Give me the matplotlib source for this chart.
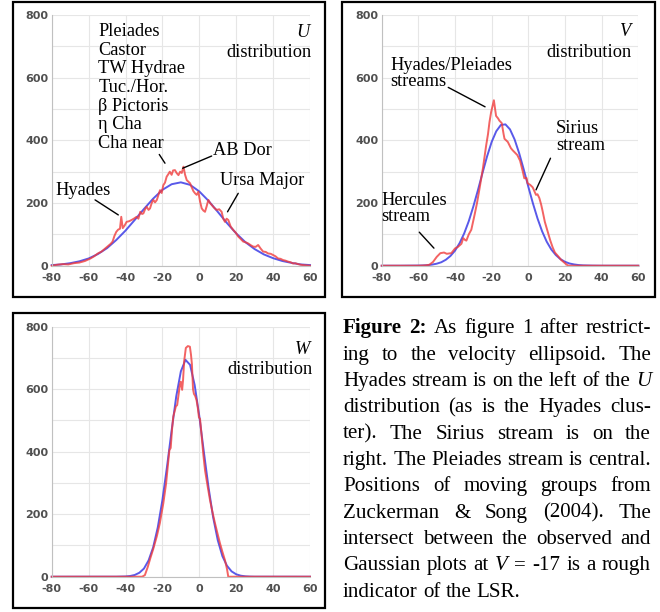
import numpy as np
import matplotlib
matplotlib.use('Agg')
import matplotlib.pyplot as plt
from matplotlib.patches import Rectangle

plt.rcParams['axes.unicode_minus'] = False

# ---- datos ----
# U
u_obs_x = [-80, -77, -74, -71, -68, -65, -62, -59, -57, -55, -53, -50, -48, -47, -46, -45, -44, -43,
           -42.3, -41.5, -40.5, -39.4, -38, -36.7, -35.5, -34, -33, -32, -31, -30.3, -29.4, -28.5,
           -27.5, -26.7, -25.8, -24.9, -24, -23, -22.2, -21.3, -20.4, -19.5, -18.6, -17.7, -16.8,
           -16, -15, -14.2, -13.2, -12.2, -11.3, -10.4, -9.5, -8.6, -7.7, -6.8, -5.9, -5, -4.1,
           -3.2, -2.3, -1.4, -0.5, 0.4, 1.3, 2.2, 3.1, 4, 4.9, 5.8, 6.7, 8, 9.4, 10.8, 12.1, 13,
           13.9, 14.8, 15.7, 17, 18.4, 19.8, 21.1, 22.5, 23.8, 25, 26.5, 28, 29.2, 30.5, 31.9, 33.2,
           34.6, 36, 37.3, 38.7, 40, 41.3, 42.7, 44, 45.4, 46.8, 48.1, 49.5, 50.8, 52, 53.5, 55,
           56.2, 58, 60]
u_obs_y = [0, 3, 5, 4, 8, 10, 15, 23, 30, 39, 45, 60, 70, 77, 95, 108, 115, 118,
           156, 120, 128, 140, 142, 146, 150, 156, 150, 172, 165, 167, 180, 188,
           178, 183, 200, 210, 202, 210, 225, 241, 232, 257, 265, 284, 292,
           300, 290, 304, 305, 295, 289, 300, 296, 316, 290, 273, 268, 263, 250,
           238, 231, 226, 236, 205, 183, 176, 172, 190, 210, 200, 194, 185, 178, 180, 172, 150,
           140, 150, 146, 125, 114, 105, 93, 85, 77, 75, 71, 65, 61, 60, 66, 55,
           45, 44, 39, 38, 34, 30, 23, 22, 18, 16, 13, 11, 7, 8, 5, 3,
           2, 1, 0]
u_fit_x = list(range(-80, 61, 5))
u_fit_y = [2, 4, 8, 14, 23, 37, 56, 82, 112, 146, 181, 214, 242, 260, 266, 258, 237, 207,
           172, 136, 103, 75, 53, 36, 24, 15, 9, 4, 2]

# V
v_obs_x = [-80, -70, -60, -56, -54, -52, -50, -48, -46, -44.5, -42, -40, -38.4, -36.5, -35.5,
           -34.5, -33.8, -32.5, -31.1, -29.3, -28, -26.6, -24.8, -23, -22, -21.2, -20.3, -18.8,
           -17.6, -16.5, -15.8, -14.5, -13.5, -13, -11.2, -9.5, -8.5, -6, -4.5, -3, -2.2, -1,
           -0.4, 1, 2.4, 3.5, 4.2, 5, 6, 7, 7.8, 9, 10.5, 12, 13.3, 14.5, 16, 18, 19.6, 21, 22,
           30, 60]
v_obs_y = [0, 0, 0, 1, 3, 12, 28, 40, 42, 38, 40, 55, 60, 70, 88,
           82, 80, 100, 115, 163, 200, 247, 310, 384, 420, 458, 490, 528,
           478, 470, 463, 455, 420, 405, 395, 375, 368, 353, 335, 300, 279, 280,
           263, 258, 250, 235, 226, 228, 216, 195, 174, 140, 110, 80, 58, 42, 32, 18, 10, 3, 0,
           0, 0]
v_fit_x = [-80, -70, -60, -57.5, -55, -52.5, -50, -47.5, -45, -42.5, -40, -37.5, -35, -32.5,
           -30, -27.5, -25, -22.5, -20, -17.5, -15, -12.5, -10, -7.5, -5, -2.5, 0, 2.5, 5, 7.5,
           10, 12.5, 15, 17.5, 20, 22.5, 25, 27.5, 30, 35, 40, 50, 60]
v_fit_y = [0, 0, 0.5, 0.9, 1.8, 3.5, 6.4, 11, 19, 31, 48, 72, 103, 142,
           189, 241, 296, 349, 395, 429, 449, 451, 435, 403, 359, 307, 252, 199, 151, 110,
           77, 52, 34, 21, 12.5, 7, 4, 2, 1, 0.3, 0, 0, 0]

# W
w_obs_x = [-80, -35, -31, -29.5, -28, -26.5, -25, -23, -21.4, -19.5, -18, -16.8, -16.2, -15.5,
           -14.8, -14.1, -12.7, -12, -11.3, -10.5, -10, -9.3, -8.8, -8.2, -7.3, -6.2, -5.1, -4.5,
           -4, -3.4, -2.9, -2.2, -1.5, -0.8, -0.2, 0.4, 1.3, 2.2, 3.1, 4.5, 5.8, 7.2, 8.5, 10,
           11.2, 12.5, 13.9, 15, 15.7, 60]
w_obs_y = [0, 0, 0, 5, 30, 60, 88, 130, 171, 235, 298, 370, 405, 412,
           470, 512, 545, 549, 580, 615, 624, 598, 630, 690, 732, 738, 736, 710,
           680, 600, 585, 578, 565, 540, 510, 505, 448, 390, 341, 290, 245, 205, 171, 135,
           107, 80, 53, 25, 0, 0]
w_fit_x = [-80, -45, -40, -37.5, -35, -32.5, -30, -27.5, -25, -22.5, -20, -17.5, -15, -12.5,
           -10, -7.5, -5, -2.5, 0, 2.5, 5, 7.5, 10, 12.5, 15, 17.5, 20, 22.5, 25, 27.5, 30, 60]
w_fit_y = [0, 0.1, 0.8, 2.2, 5.5, 12.6, 26, 52, 94, 158, 245, 352, 468, 577,
           657, 694, 678, 613, 514, 398, 286, 190, 117, 66, 35, 17, 7.7, 3.2, 1.2, 0.4, 0.1, 0]

W, H = 660, 612
fig = plt.figure(figsize=(6.6, 6.12), dpi=100)

def fx(px):
    return px / W

def fy(py):
    return 1 - py / H

ROJO = '#f03c3c'
AZUL = '#3c3ce6'
SERIF = 'Liberation Serif'
FS = 13.2

def panel(left, top, right, bottom):
    ax = fig.add_axes([fx(left), fy(bottom), fx(right - left), (bottom - top) / H])
    ax.set_xlim(-80, 60)
    ax.set_ylim(0, 800)
    ax.set_xticks(range(-80, 61, 20))
    ax.set_yticks([0, 200, 400, 600, 800])
    ax.set_yticks([100, 300, 500, 700], minor=True)
    ax.grid(True, which='both', color='#e6e6e6', lw=0.8)
    ax.set_axisbelow(True)
    for s in ['top', 'right']:
        ax.spines[s].set_visible(False)
    for s in ['left', 'bottom']:
        ax.spines[s].set_color('#c0c0c0')
        ax.spines[s].set_linewidth(0.8)
    ax.tick_params(length=0, labelsize=8, labelcolor='#505050', which='both')
    ax.tick_params(axis='x', pad=5.5)
    ax.tick_params(axis='y', pad=2.5)
    for lb in ax.get_xticklabels() + ax.get_yticklabels():
        lb.set_fontweight('bold')
    ax.patch.set_alpha(0)
    return ax

def caja(x0, y0, x1, y1):
    fig.patches.append(Rectangle((fx(x0), fy(y1)), fx(x1 - x0), (y1 - y0) / H,
                                 transform=fig.transFigure, fill=False,
                                 edgecolor='black', lw=1.6))

def curvas(ax, ox, oy, gx, gy):
    ax.plot(gx, gy, color=AZUL, lw=1.4, alpha=0.85, clip_on=False)
    ax.plot(ox, oy, color=ROJO, lw=1.4, alpha=0.8, clip_on=False)

def raya(ax, p0, p1):
    ax.annotate('', xy=p1, xytext=p0,
                arrowprops=dict(arrowstyle='-', color='black', lw=1.0,
                                shrinkA=0, shrinkB=0))

def txt(ax, x, y, s, ha='left', **kw):
    ax.text(x, y, s, ha=ha, va='baseline', family=SERIF, fontsize=FS, **kw)

#%% U
caja(13, 2, 325, 297)
ax1 = panel(51.7, 15, 310, 265.7)
curvas(ax1, u_obs_x, u_obs_y, u_fit_x, u_fit_y)
grupos = ['Pleiades', 'Castor', 'TW Hydrae', 'Tuc./Hor.', 'β Pictoris', 'η Cha', 'Cha near']
for i, g in enumerate(grupos):
    txt(ax1, -54.8, 732 - 59.2 * i, g)
txt(ax1, 60, 729, 'U', ha='right', style='italic')
txt(ax1, 61, 665, 'distribution', ha='right')
txt(ax1, -78.2, 226, 'Hyades')
raya(ax1, (-56.5, 210), (-43.9, 162))
raya(ax1, (-21.7, 355), (-18.6, 327))
txt(ax1, 7.4, 353, 'AB Dor')
raya(ax1, (6.7, 350), (-9.0, 311))
txt(ax1, 11.2, 258, 'Ursa Major')
raya(ax1, (21.1, 231), (15.3, 172))

#%% V
caja(342, 2, 655, 297)
ax2 = panel(381.7, 15, 638.3, 265.7)
curvas(ax2, v_obs_x, v_obs_y, v_fit_x, v_fit_y)
txt(ax2, 55.5, 734, 'V', ha='right', style='italic')
txt(ax2, 56.4, 665, 'distribution', ha='right')
txt(ax2, -75.5, 623, 'Hyades/Pleiades')
txt(ax2, -75.5, 572, 'streams')
raya(ax2, (-43.7, 569), (-23.6, 507))
txt(ax2, 15.1, 423, 'Sirius')
txt(ax2, 15.1, 368, 'stream')
raya(ax2, (12.1, 343), (4.2, 242))
txt(ax2, -80, 194, 'Hercules')
txt(ax2, -80, 142, 'stream')
raya(ax2, (-59.5, 107), (-51.5, 56))

#%% W
caja(13, 313, 325, 608)
ax3 = panel(51.7, 326.7, 310, 576.7)
curvas(ax3, w_obs_x, w_obs_y, w_fit_x, w_fit_y)
txt(ax3, 60, 713, 'W', ha='right', style='italic')
txt(ax3, 61.2, 649, 'distribution', ha='right')

#%% leyenda (texto justificado)
lineas = [
    [('Figure', 'b'), ('2:', 'b'), ('As', 'n'), ('figure', 'n'), ('1', 'n'), ('after', 'n'), ('restrict-', 'n')],
    [(w, 'n') for w in 'ing to the velocity ellipsoid. The'.split()],
    [(w, 'n') for w in 'Hyades stream is on the left of the'.split()] + [('U', 'i')],
    [(w, 'n') for w in 'distribution (as is the Hyades clus-'.split()],
    [(w, 'n') for w in 'ter). The Sirius stream is on the'.split()],
    [(w, 'n') for w in 'right. The Pleiades stream is central.'.split()],
    [(w, 'n') for w in 'Positions of moving groups from'.split()],
    [(w, 'n') for w in 'Zuckerman & Song (2004). The'.split()],
    [(w, 'n') for w in 'intersect between the observed and'.split()],
    [(w, 'n') for w in 'Gaussian plots at'.split()] + [('V', 'i'), ('=', 'n'), ('-17', 'n')]
    + [(w, 'n') for w in 'is a rough'.split()],
    [(w, 'n') for w in 'indicator of the LSR.'.split()],
]

FS_CAP = 15.1
izq, der = 343, 651
base0, paso = 333.3, 26.34
renderer = fig.canvas.get_renderer()
for i, linea in enumerate(lineas):
    yb = fy(base0 + paso * i)
    objs = []
    for w, st in linea:
        t = fig.text(0, yb, w, family=SERIF, fontsize=FS_CAP, va='baseline', ha='left',
                     weight='bold' if st == 'b' else 'normal',
                     style='italic' if st == 'i' else 'normal')
        objs.append(t)
    anchos = [t.get_window_extent(renderer).width for t in objs]
    if i < len(lineas) - 1:
        hueco = (der - izq - sum(anchos)) / (len(objs) - 1)
    else:
        hueco = 0.25 * FS_CAP * 100 / 72
    x = izq
    for t, a in zip(objs, anchos):
        t.set_x(fx(x))
        x += a + hueco

fig.savefig('out.png', dpi=100)
